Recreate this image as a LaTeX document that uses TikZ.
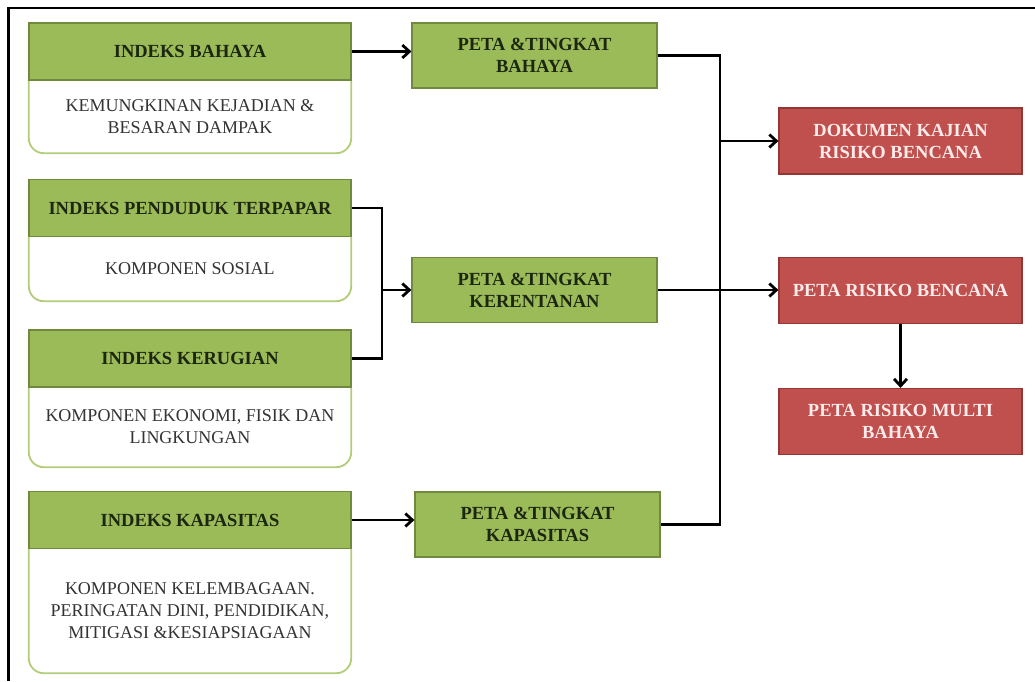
\documentclass[tikz,border=0pt]{standalone}
\usepackage{fontspec}
\setmainfont{Liberation Serif}
\usetikzlibrary{arrows.meta,positioning,calc}
\definecolor{hdrgreen}{HTML}{9BBB59}
\definecolor{hdrline}{HTML}{71893F}
\definecolor{bodyline}{HTML}{B3CC7A}
\definecolor{hdrtext}{HTML}{1C2610}
\definecolor{bodytext}{HTML}{333333}
\definecolor{riskred}{HTML}{C0504D}
\definecolor{riskline}{HTML}{943634}
\tikzset{
    index head/.style={fill=hdrgreen,draw=hdrline,line width=1.2pt,minimum width=322pt,minimum height=57pt,
        text=hdrtext,font=\fontsize{18.5}{22}\selectfont\bfseries,align=center},
    index body/.style={minimum width=322pt,text=bodytext,font=\fontsize{18}{22}\selectfont,align=center},
    body outline/.style={draw=bodyline,line width=1.8pt,rounded corners=15pt},
    map box/.style={fill=hdrgreen,draw=hdrline,line width=1.2pt,minimum width=245pt,minimum height=65pt,
        text=hdrtext,font=\fontsize{18.5}{22}\selectfont\bfseries,align=center},
    risk box/.style={fill=riskred,draw=riskline,line width=1.2pt,minimum width=243pt,minimum height=66pt,
        text=white!92!red,font=\fontsize{18.5}{22}\selectfont\bfseries,align=center},
    link/.style={line width=2.8pt,black},
    arr/.style={link,-{Straight Barb[length=7pt,width=13pt]}},
}
\begin{document}
\begin{tikzpicture}[x=1pt,y=-1pt]
    \useasboundingbox (0,0) rectangle (1035,681);
    \draw[line width=2.5pt] (1035,8) -- (8.5,8) -- (8.5,681);

    \node[index body,minimum height=73pt] (ibb) at (190,116.5) {KEMUNGKINAN KEJADIAN \&\\BESARAN DAMPAK};
    \node[index body,minimum height=64pt] (iptb) at (190,269) {KOMPONEN SOSIAL};
    \node[index body,minimum height=80pt] (ikb) at (190,427) {KOMPONEN EKONOMI, FISIK DAN\\LINGKUNGAN};
    \node[index body,minimum height=125pt] (ikab) at (190,610.5) {KOMPONEN KELEMBAGAAN.\\PERINGATAN DINI, PENDIDIKAN,\\MITIGASI \&KESIAPSIAGAAN};
    \foreach \b in {ibb,iptb,ikb,ikab}
        \draw[body outline] (\b.north west) -- (\b.south west) -- (\b.south east) -- (\b.north east);

    \node[index head] (ib) at (190,51.5) {INDEKS BAHAYA};
    \node[index head] (ipt) at (190,208) {INDEKS PENDUDUK TERPAPAR};
    \node[index head] (ik) at (190,358.5) {INDEKS KERUGIAN};
    \node[index head] (ika) at (190,520) {INDEKS KAPASITAS};

    \node[map box] (pb) at (534.5,55.5) {PETA \&TINGKAT\\BAHAYA};
    \node[map box] (pk) at (534.5,290) {PETA \&TINGKAT\\KERENTANAN};
    \node[map box] (pka) at (537.5,524.5) {PETA \&TINGKAT\\KAPASITAS};

    \node[risk box] (dk) at (900.5,141) {DOKUMEN KAJIAN\\RISIKO BENCANA};
    \node[risk box] (prb) at (900.5,290.5) {PETA RISIKO BENCANA};
    \node[risk box] (prm) at (900.5,421.5) {PETA RISIKO MULTI\\BAHAYA};

    \coordinate (kj) at (382,290);
    \coordinate (bus) at (720,0);

    \draw[arr] (ib.east) -- (ib.east -| pb.west);
    \draw[link] (ipt.east) -| (kj) |- (ik.east);
    \draw[arr] (kj) -- (pk.west);
    \draw[arr] (ika.east) -- (ika.east -| pka.west);

    \draw[link] (pb.east) -| (bus |- pka.east) -- (pka.east);
    \draw[arr] (bus |- dk.west) -- (dk.west);
    \draw[arr] (pk.east) -- (pk.east -| prb.west);
    \draw[arr] (prb.south) -- (prm.north);
\end{tikzpicture}
\end{document}
